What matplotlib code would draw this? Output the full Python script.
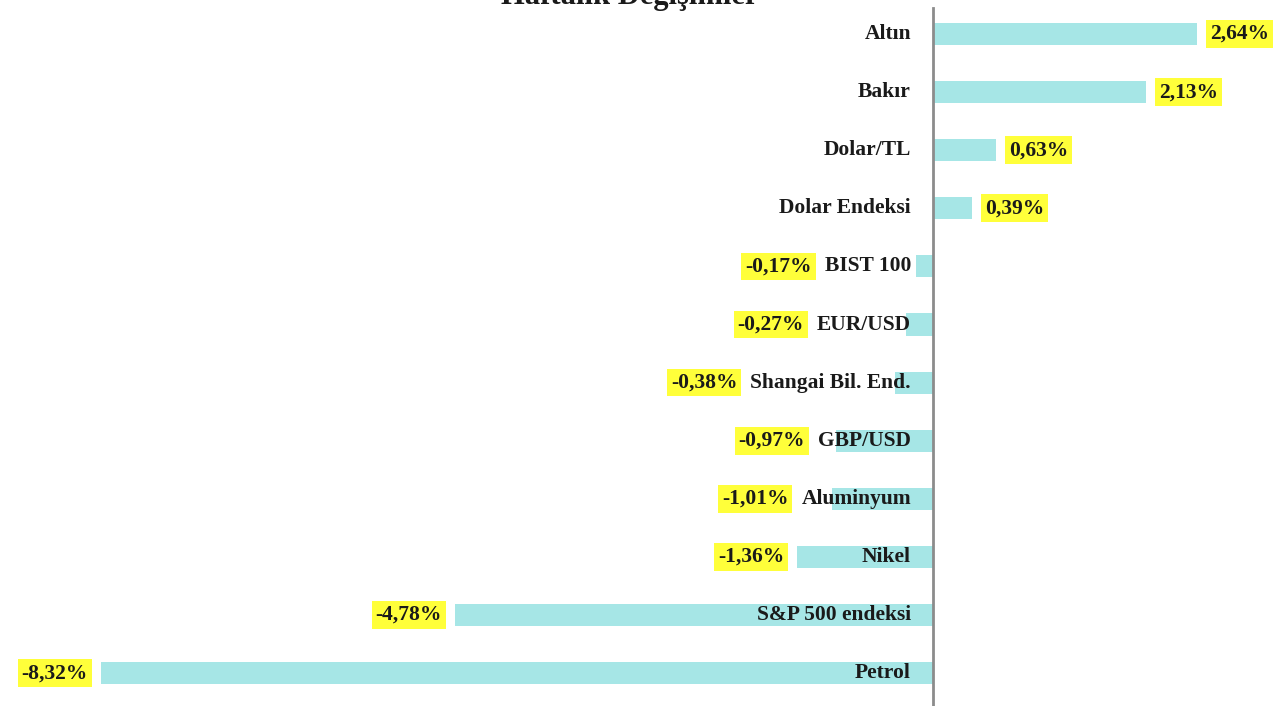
import matplotlib
matplotlib.use('Agg')
import matplotlib.pyplot as plt

# Haftalik degisimler (%)
kategoriler = ['Altın', 'Bakır', 'Dolar/TL', 'Dolar Endeksi', 'BIST 100', 'EUR/USD',
               'Shangai Bil. End.', 'GBP/USD', 'Aluminyum', 'Nikel', 'S&P 500 endeksi', 'Petrol']
degisim = [2.64, 2.13, 0.63, 0.39, -0.17, -0.27, -0.38, -0.97, -1.01, -1.36, -4.78, -8.32]
baslik = 'Haftalık Değişimler'

W, H = 1288, 706
fig = plt.figure(figsize=(W / 100, H / 100), dpi=100)
ax = fig.add_axes([0, 0, 1, 1])

px = 100.0  # piksel / %
x0 = 933
ax.set_xlim(-x0 / px, (W - x0) / px)
satir = 58.1
ust = 34
ax.set_ylim((H - ust) / satir, -ust / satir)
ax.axis('off')

font = dict(family='Liberation Serif', weight='bold', fontsize=15.5, color='#1a1a1a')
bar_renk = '#a6e6e6'
sari = '#ffff3a'

y = list(range(len(kategoriler)))
ax.barh(y, degisim, height=0.38, color=bar_renk, zorder=1)

# dikey eksen cizgisi
ax.axvline(0, ymin=1 - 705 / H, ymax=1 - 8 / H, color='#8c8c8c', lw=2, zorder=3)

lbl_x = -22 / px
etiketler = []
for i, k in enumerate(kategoriler):
    t = ax.text(lbl_x, i, k, ha='right', va='center', zorder=4, **font)
    etiketler.append(t)

fig.canvas.draw()
r = fig.canvas.get_renderer()
inv = ax.transData.inverted()

for i, v in enumerate(degisim):
    s = '{:.2f}%'.format(v).replace('.', ',')
    kutu = dict(boxstyle='square,pad=0.18', facecolor=sari, edgecolor='none')
    if v >= 0:
        ax.text(v + 13 / px, i, s, ha='left', va='center', bbox=kutu, zorder=5, **font)
    else:
        bb = etiketler[i].get_window_extent(r)
        sol = inv.transform((bb.x0, 0))[0]
        sol = min(sol, v)
        ax.text(sol - 13 / px, i, s, ha='right', va='center', bbox=kutu, zorder=5, **font)

# baslik (ustten kesik)
baslik_font = dict(font, fontsize=22)
fig.text(630 / W, 1 - 4 / H, baslik, ha='center', va='baseline', **baslik_font)

fig.savefig('out.png', dpi=100, facecolor='white')
